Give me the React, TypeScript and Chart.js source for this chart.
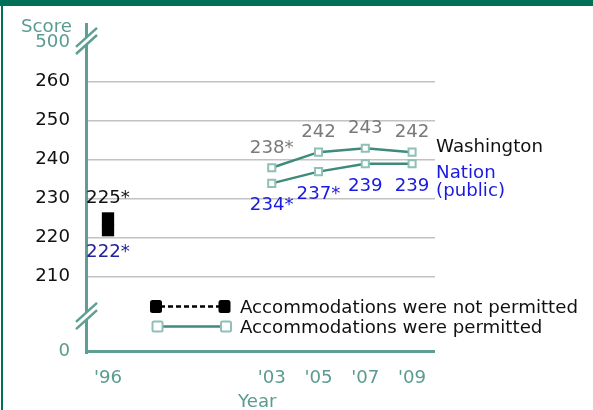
import React, { useEffect, useRef } from "react";
import { Chart, registerables } from "chart.js";

Chart.register(...registerables);

// ---- data ----
const yearLabels = ["'96", "'03", "'05", "'07", "'09"];
const yearPositions = [0, 3.5, 4.5, 5.5, 6.5];

const waNotPermitted = [225];
const naNotPermitted = [222];
const waPermitted = [238, 242, 243, 242];
const naPermitted = [234, 237, 239, 239];

const waNotSig = [true];
const naNotSig = [true];
const waPermSig = [true, false, false, false];
const naPermSig = [true, true, false, false];

// broken axis: "0" and "500" sit at virtual positions
const yTickValues = [190.77, 210, 220, 230, 240, 250, 260, 270];
const yTickLabels = ["0", "210", "220", "230", "240", "250", "260", "500"];

const seriesNames = ["Washington", "Nation", "(public)"];
const legendLabels = ["Accommodations were not permitted", "Accommodations were permitted"];
const yAxisTitle = "Score";
const xAxisTitle = "Year";

// ---- styles ----
const FAMILY = "'DejaVu Sans', sans-serif";
const FS = 18.2;
const TEAL_TEXT = "#5a9c90";
const AXIS = "#5f9f93";
const LINE_TEAL = "#3e8b7c";
const MARK_TEAL = "#8fc0b5";
const GREY = "#7a7a7a";
const BLUE = "#1a1ae0";
const NAVY = "#23239b";
const FRAME = "#007157";

const font = `${FS}px ${FAMILY}`;

function textAt(ctx: CanvasRenderingContext2D, s: string, x: number, cy: number, color: string, align: CanvasTextAlign) {
  ctx.fillStyle = color;
  ctx.textAlign = align;
  ctx.textBaseline = "alphabetic";
  ctx.font = font;
  ctx.fillText(s, x, cy + FS * 0.365);
}

function drawBreak(ctx: CanvasRenderingContext2D, cx: number, cy: number) {
  const dx = 10.5;
  const dy = 9.5;
  const off = 3.6;
  ctx.save();
  ctx.fillStyle = "#ffffff";
  ctx.beginPath();
  ctx.moveTo(cx - dx, cy + dy - off);
  ctx.lineTo(cx + dx, cy - dy - off);
  ctx.lineTo(cx + dx, cy - dy + off);
  ctx.lineTo(cx - dx, cy + dy + off);
  ctx.closePath();
  ctx.fill();
  ctx.strokeStyle = AXIS;
  ctx.lineWidth = 2.5;
  for (const o of [-off, off]) {
    ctx.beginPath();
    ctx.moveTo(cx - dx, cy + dy + o);
    ctx.lineTo(cx + dx, cy - dy + o);
    ctx.stroke();
  }
  ctx.restore();
}

function rrect(ctx: CanvasRenderingContext2D, x: number, y: number, w: number, h: number, r: number) {
  ctx.beginPath();
  ctx.moveTo(x + r, y);
  ctx.lineTo(x + w - r, y);
  ctx.quadraticCurveTo(x + w, y, x + w, y + r);
  ctx.lineTo(x + w, y + h - r);
  ctx.quadraticCurveTo(x + w, y + h, x + w - r, y + h);
  ctx.lineTo(x + r, y + h);
  ctx.quadraticCurveTo(x, y + h, x, y + h - r);
  ctx.lineTo(x, y + r);
  ctx.quadraticCurveTo(x, y, x + r, y);
  ctx.closePath();
}

const decorPlugin = {
  id: "decor",
  beforeDraw(chart: any) {
    const ctx = chart.ctx as CanvasRenderingContext2D;
    ctx.save();
    ctx.fillStyle = "#ffffff";
    ctx.fillRect(0, 0, chart.width, chart.height);
    ctx.restore();
  },
  beforeDatasetsDraw(chart: any) {
    const ctx = chart.ctx as CanvasRenderingContext2D;
    const { left, right, top, bottom } = chart.chartArea;
    ctx.save();
    ctx.fillStyle = AXIS;
    ctx.fillRect(left - 2, top, 3, bottom - top + 2);
    ctx.fillRect(left - 2, bottom - 2, right - left + 2, 3);
    const ys = chart.scales.y;
    drawBreak(ctx, left - 0.5, ys.getPixelForValue(270.5));
    drawBreak(ctx, left - 0.5, ys.getPixelForValue(200.0));
    ctx.restore();
  },
  afterDatasetsDraw(chart: any) {
    const ctx = chart.ctx as CanvasRenderingContext2D;
    const { left } = chart.chartArea;
    ctx.save();

    // data labels
    const lab = (v: number, sig: boolean) => `${v}${sig ? "*" : ""}`;
    const m0 = chart.getDatasetMeta(0).data;
    const m1 = chart.getDatasetMeta(1).data;
    const m2 = chart.getDatasetMeta(2).data;
    const m3 = chart.getDatasetMeta(3).data;
    m0.forEach((p: any, i: number) => textAt(ctx, lab(waNotPermitted[i], waNotSig[i]), p.x, p.y - 22, "#111111", "center"));
    m1.forEach((p: any, i: number) => textAt(ctx, lab(naNotPermitted[i], naNotSig[i]), p.x, p.y + 20, NAVY, "center"));
    m2.forEach((p: any, i: number) => textAt(ctx, lab(waPermitted[i], waPermSig[i]), p.x, p.y - 21.5, GREY, "center"));
    m3.forEach((p: any, i: number) => textAt(ctx, lab(naPermitted[i], naPermSig[i]), p.x, p.y + 20.5, BLUE, "center"));

    // series names
    const wl = m2[m2.length - 1];
    const nl = m3[m3.length - 1];
    textAt(ctx, seriesNames[0], wl.x + 24, wl.y - 7, "#111111", "left");
    textAt(ctx, seriesNames[1], nl.x + 24, nl.y + 8, BLUE, "left");
    textAt(ctx, seriesNames[2], nl.x + 24, nl.y + 26, BLUE, "left");

    // legend
    const ly1 = 306.5;
    const ly2 = 326.5;
    ctx.strokeStyle = "#000000";
    ctx.lineWidth = 2.5;
    ctx.setLineDash([5, 3]);
    ctx.beginPath();
    ctx.moveTo(160, ly1);
    ctx.lineTo(220, ly1);
    ctx.stroke();
    ctx.setLineDash([]);
    ctx.fillStyle = "#000000";
    for (const cx of [156, 224.5]) {
      rrect(ctx, cx - 6, ly1 - 6.5, 12, 13, 2.5);
      ctx.fill();
    }
    ctx.strokeStyle = LINE_TEAL;
    ctx.lineWidth = 2.5;
    ctx.beginPath();
    ctx.moveTo(158, ly2);
    ctx.lineTo(226, ly2);
    ctx.stroke();
    for (const cx of [157.5, 226]) {
      ctx.fillStyle = "#ffffff";
      ctx.strokeStyle = MARK_TEAL;
      ctx.lineWidth = 2;
      rrect(ctx, cx - 5, ly2 - 5, 10, 10, 1.5);
      ctx.fill();
      ctx.stroke();
    }
    textAt(ctx, legendLabels[0], 240, ly1 - 0.5, "#111111", "left");
    textAt(ctx, legendLabels[1], 240, ly2 - 0.5, "#111111", "left");

    // axis titles
    textAt(ctx, yAxisTitle, left - 15, 25, TEAL_TEXT, "right");
    textAt(ctx, xAxisTitle, 238, 400, TEAL_TEXT, "left");

    // frame
    ctx.fillStyle = FRAME;
    ctx.fillRect(0, 0, chart.width, 6);
    ctx.fillRect(1, 0, 2, chart.height);
    ctx.restore();
  },
};

export default function App() {
  const ref = useRef<HTMLCanvasElement | null>(null);

  useEffect(() => {
    if (!ref.current) return;
    const last = yTickValues.length - 1;
    const blackPoint = {
      showLine: false,
      pointStyle: "rect",
      pointRadius: 8.7,
      pointBackgroundColor: "#000000",
      pointBorderColor: "#000000",
      pointBorderWidth: 0,
    };
    const tealLine = {
      borderColor: LINE_TEAL,
      borderWidth: 2.5,
      tension: 0,
      pointStyle: "rect",
      pointRadius: 5,
      pointBorderWidth: 2,
      pointBorderColor: MARK_TEAL,
      pointBackgroundColor: "#ffffff",
    };
    const chart = new Chart(ref.current, {
      type: "line",
      data: {
        datasets: [
          { label: "Washington (not permitted)", data: waNotPermitted.map((v, i) => ({ x: yearPositions[i], y: v })), ...blackPoint },
          { label: "Nation (not permitted)", data: naNotPermitted.map((v, i) => ({ x: yearPositions[i], y: v })), ...blackPoint },
          { label: "Washington (permitted)", data: waPermitted.map((v, i) => ({ x: yearPositions[i + 1], y: v })), ...tealLine },
          { label: "Nation (permitted)", data: naPermitted.map((v, i) => ({ x: yearPositions[i + 1], y: v })), ...tealLine },
        ],
      },
      options: {
        responsive: false,
        animation: false,
        devicePixelRatio: 1,
        layout: { padding: { top: 23, right: 158, left: 0, bottom: 0 } },
        plugins: { legend: { display: false }, tooltip: { enabled: false } },
        scales: {
          x: {
            type: "linear",
            min: -0.449,
            max: 6.99,
            afterBuildTicks: (s: any) => {
              s.ticks = yearPositions.map((v) => ({ value: v }));
            },
            afterFit: (s: any) => {
              s.height = 58;
              s.paddingLeft = 0;
              s.paddingRight = 0;
            },
            grid: { display: false, drawTicks: false },
            border: { display: false },
            ticks: {
              autoSkip: false,
              maxRotation: 0,
              padding: 15,
              color: TEAL_TEXT,
              font: { family: FAMILY, size: FS },
              callback: (_v: any, i: number) => yearLabels[i],
            },
          },
          y: {
            type: "linear",
            min: 190.77,
            max: 275.1,
            afterBuildTicks: (s: any) => {
              s.ticks = yTickValues.map((v) => ({ value: v }));
            },
            afterFit: (s: any) => {
              s.width = 87;
              s.paddingTop = 0;
              s.paddingBottom = 0;
            },
            grid: {
              drawTicks: false,
              lineWidth: 1.5,
              color: (c: any) => (c.index === 0 || c.index === last ? "rgba(0,0,0,0)" : "#c2c2c2"),
            },
            border: { display: false },
            ticks: {
              autoSkip: false,
              padding: 17,
              labelOffset: -1,
              font: { family: FAMILY, size: FS },
              color: (c: any) => (c.index === 0 || c.index === last ? TEAL_TEXT : "#111111"),
              callback: (_v: any, i: number) => yTickLabels[i],
            },
          },
        },
      },
      plugins: [decorPlugin],
    } as any);
    return () => chart.destroy();
  }, []);

  return (
    <div style={{ position: "fixed", left: 0, top: 0, width: 593, height: 410, background: "#ffffff" }}>
      <canvas ref={ref} width={593} height={410} style={{ display: "block", width: 593, height: 410 }} />
    </div>
  );
}
